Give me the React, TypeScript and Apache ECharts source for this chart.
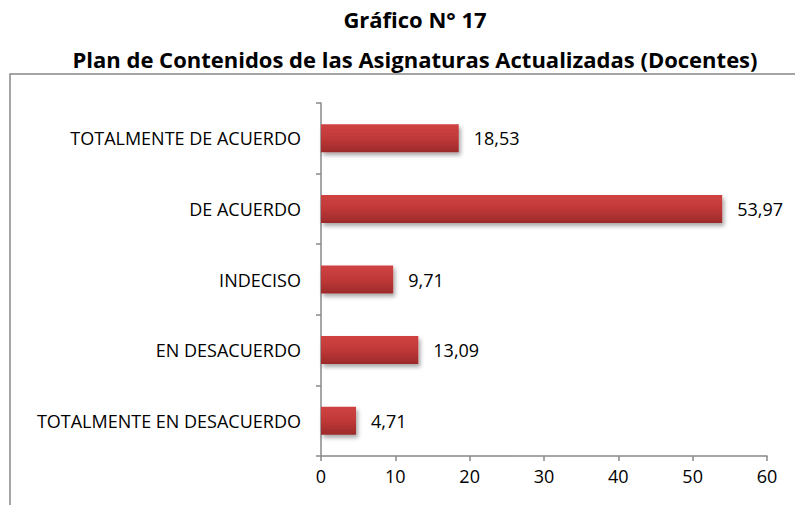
import React, { useEffect, useRef } from "react";
import * as echarts from "echarts";

const categories = [
  "TOTALMENTE DE ACUERDO",
  "DE ACUERDO",
  "INDECISO",
  "EN DESACUERDO",
  "TOTALMENTE EN DESACUERDO",
];
const values = [18.53, 53.97, 9.71, 13.09, 4.71];
const xTicks = { min: 0, max: 60, interval: 10 };
const titleLines = ["Gráfico N° 17", "Plan de Contenidos de las Asignaturas Actualizadas (Docentes)"];

const FONT = "Open Sans";

export default function App() {
  const ref = useRef<HTMLDivElement>(null);
  useEffect(() => {
    if (!ref.current) return;
    const chart = echarts.init(ref.current, null, { renderer: "svg" });
    chart.setOption({
      animation: false,
      backgroundColor: "#ffffff",
      title: {
        text: titleLines.join("\n"),
        left: 410,
        textAlign: "center",
        top: -6,
        textStyle: {
          fontFamily: FONT,
          fontWeight: "bold",
          fontSize: 22,
          lineHeight: 40,
          color: "#000",
        },
      },
      graphic: [
        {
          type: "rect",
          shape: { x: 10, y: 74, width: 900, height: 600 },
          style: { fill: "none", stroke: "#888888", lineWidth: 1.5 },
          silent: true,
        },
      ],
      grid: { left: 321, right: 28, top: 103, bottom: 49, containLabel: false },
      xAxis: {
        type: "value",
        min: xTicks.min,
        max: xTicks.max,
        interval: xTicks.interval,
        splitLine: { show: false },
        axisLine: { show: true, lineStyle: { color: "#888888", width: 1.5 } },
        axisTick: { show: true, length: 5, lineStyle: { color: "#888888", width: 1.5 } },
        axisLabel: { color: "#000", fontFamily: FONT, fontSize: 18, margin: 11 },
      },
      yAxis: {
        type: "category",
        data: categories,
        inverse: true,
        axisLine: { show: true, lineStyle: { color: "#888888", width: 1.5 } },
        axisTick: { show: true, length: 5, lineStyle: { color: "#888888", width: 1.5 } },
        axisLabel: { color: "#000", fontFamily: FONT, fontSize: 18, margin: 20 },
      },
      series: [
        {
          type: "bar",
          data: values,
          barWidth: 28,
          itemStyle: {
            color: new echarts.graphic.LinearGradient(0, 0, 0, 1, [
              { offset: 0, color: "#d04242" },
              { offset: 0.5, color: "#c03838" },
              { offset: 1, color: "#9c2a2a" },
            ]),
            shadowColor: "rgba(0,0,0,0.35)",
            shadowBlur: 4,
            shadowOffsetX: 2,
            shadowOffsetY: 3,
          },
          label: {
            show: true,
            position: "right",
            distance: 15,
            color: "#000",
            fontFamily: FONT,
            fontSize: 18,
            formatter: (p: any) => String(p.value.toFixed(2)).replace(".", ","),
          },
        },
      ],
    });
    return () => chart.dispose();
  }, []);
  return (
    <div
      ref={ref}
      style={{ position: "fixed", left: 0, top: 0, width: 795, height: 505 }}
    />
  );
}
